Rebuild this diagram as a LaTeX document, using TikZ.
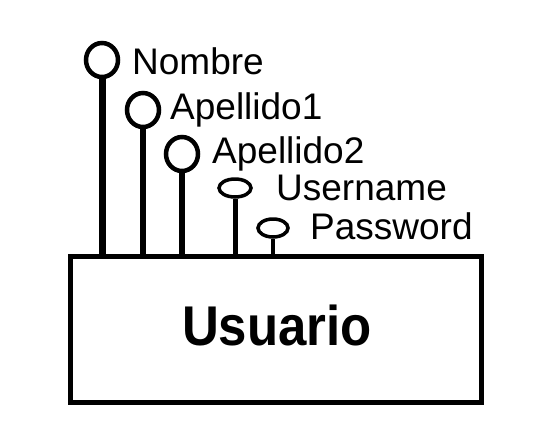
\documentclass[tikz,border=0pt]{standalone}
\usepackage{fontspec}
\setmainfont{Liberation Sans}
\usetikzlibrary{shapes.geometric}
\tikzset{
  entidad/.style={draw,rectangle,line width=5pt,minimum width=411pt,minimum height=146pt,inner sep=0pt},
  clave/.style={draw,ellipse,line width=4.5pt,minimum width=32pt,minimum height=34pt,inner sep=0pt},
  atrib/.style={draw,ellipse,line width=3.5pt,minimum width=32pt,minimum height=18pt,inner sep=0pt},
  etiqueta/.style={anchor=base west,inner sep=0pt,font=\fontsize{37}{40}\selectfont},
}
\begin{document}
\begin{tikzpicture}[x=1pt,y=-1pt]
                        \useasboundingbox (0,0) rectangle (535,437);
                        % entidad
                        \node [entidad] (usuario) at (276,329.5) {};
                        \node at (277,345) [anchor=base,inner sep=0pt,font=\fontsize{56}{60}\selectfont\bfseries] (tusuario) {\scalebox{0.91}[1]{Usuario}};
                        
                        % atributos
                        \node [clave] (nombre) at (102,60) {};
                        \node [clave] (ape1) at (143,110) {};
                        \node [clave] (ape2) at (182,154) {};
                        \node [atrib] (user) at (235,188) {};
                        \node [atrib, minimum width=30pt] (pass) at (273,228) {};
                        
                        \node [etiqueta] (tnombre) at (132,74) {Nombre};
                        \node [etiqueta] (tape1) at (170,119) {Apellido1};
                        \node [etiqueta] (tape2) at (212,163) {Apellido2};
                        \node [etiqueta] (tuser) at (276,200) {Username};
                        \node [etiqueta] (tpass) at (310,239) {Password};
                        
                        % palos
                        \draw [line width=7pt] (nombre.south) -- (nombre.south |- usuario.north);
                        \draw [line width=6pt] (ape1.south) -- (ape1.south |- usuario.north);
                        \draw [line width=6pt] (ape2.south) -- ([yshift=-4pt]ape2.south |- usuario.north);
                        \draw [line width=5pt] (user.south) -- (user.south |- usuario.north);
                        \draw [line width=4pt] (pass.south) -- (pass.south |- usuario.north);
                    \end{tikzpicture}
\end{document}
